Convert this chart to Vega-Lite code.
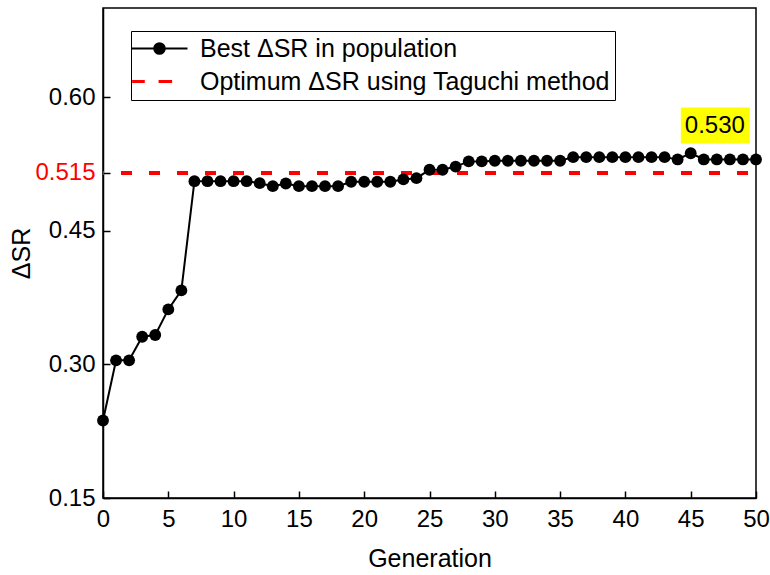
{
  "$schema": "https://vega.github.io/schema/vega-lite/v6.json",
  "width": 653,
  "height": 490,
  "autosize": {"type": "none"},
  "padding": {"left": 103, "top": 8, "right": 14, "bottom": 77},
  "background": "white",
  "config": {
    "font": "Liberation Sans",
    "view": {"stroke": "black", "strokeWidth": 1.5},
    "axis": {
      "grid": false,
      "domainColor": "black",
      "domainWidth": 1.5,
      "tickColor": "black",
      "tickWidth": 1.5,
      "tickSize": -7,
      "labelFlush": false,
      "labelFont": "Liberation Sans",
      "labelFontSize": 24,
      "labelColor": "black",
      "titleFont": "Liberation Sans",
      "titleFontSize": 25,
      "titleFontWeight": "normal",
      "titleColor": "black"
    }
  },
  "data": {
    "values": [
      {"generation": 0, "delta_sr": 0.237},
      {"generation": 1, "delta_sr": 0.3045},
      {"generation": 2, "delta_sr": 0.3045},
      {"generation": 3, "delta_sr": 0.331},
      {"generation": 4, "delta_sr": 0.333},
      {"generation": 5, "delta_sr": 0.3617},
      {"generation": 6, "delta_sr": 0.383},
      {"generation": 7, "delta_sr": 0.5056},
      {"generation": 8, "delta_sr": 0.5056},
      {"generation": 9, "delta_sr": 0.5056},
      {"generation": 10, "delta_sr": 0.5056},
      {"generation": 11, "delta_sr": 0.5056},
      {"generation": 12, "delta_sr": 0.5034},
      {"generation": 13, "delta_sr": 0.5},
      {"generation": 14, "delta_sr": 0.503},
      {"generation": 15, "delta_sr": 0.5},
      {"generation": 16, "delta_sr": 0.5},
      {"generation": 17, "delta_sr": 0.5},
      {"generation": 18, "delta_sr": 0.5},
      {"generation": 19, "delta_sr": 0.505},
      {"generation": 20, "delta_sr": 0.505},
      {"generation": 21, "delta_sr": 0.505},
      {"generation": 22, "delta_sr": 0.505},
      {"generation": 23, "delta_sr": 0.5076},
      {"generation": 24, "delta_sr": 0.509},
      {"generation": 25, "delta_sr": 0.5184},
      {"generation": 26, "delta_sr": 0.5184},
      {"generation": 27, "delta_sr": 0.522},
      {"generation": 28, "delta_sr": 0.5278},
      {"generation": 29, "delta_sr": 0.5278},
      {"generation": 30, "delta_sr": 0.5285},
      {"generation": 31, "delta_sr": 0.5285},
      {"generation": 32, "delta_sr": 0.5285},
      {"generation": 33, "delta_sr": 0.5285},
      {"generation": 34, "delta_sr": 0.5285},
      {"generation": 35, "delta_sr": 0.5285},
      {"generation": 36, "delta_sr": 0.5326},
      {"generation": 37, "delta_sr": 0.5326},
      {"generation": 38, "delta_sr": 0.5326},
      {"generation": 39, "delta_sr": 0.5326},
      {"generation": 40, "delta_sr": 0.5326},
      {"generation": 41, "delta_sr": 0.5326},
      {"generation": 42, "delta_sr": 0.5326},
      {"generation": 43, "delta_sr": 0.5326},
      {"generation": 44, "delta_sr": 0.530},
      {"generation": 45, "delta_sr": 0.537},
      {"generation": 46, "delta_sr": 0.530},
      {"generation": 47, "delta_sr": 0.530},
      {"generation": 48, "delta_sr": 0.530},
      {"generation": 49, "delta_sr": 0.530},
      {"generation": 50, "delta_sr": 0.530}
    ]
  },
  "encoding": {
    "x": {
      "field": "generation",
      "type": "quantitative",
      "title": "Generation",
      "scale": {"domain": [0, 50], "nice": false},
      "axis": {
        "values": [0, 5, 10, 15, 20, 25, 30, 35, 40, 45, 50],
        "labelPadding": 16,
        "titlePadding": 15
      }
    },
    "y": {
      "field": "delta_sr",
      "type": "quantitative",
      "title": "ΔSR",
      "scale": {"domain": [0.15, 0.7], "nice": false, "zero": false},
      "axis": {
        "values": [0.15, 0.3, 0.45, 0.515, 0.6],
        "labelExpr": "datum.value === 0.515 ? '0.515' : format(datum.value, '.2f')",
        "labelColor": {"condition": {"test": "datum.value === 0.515", "value": "red"}, "value": "black"},
        "labelPadding": 15,
        "titlePadding": 0
      }
    }
  },
  "layer": [
    {
      "mark": {"type": "rule", "strokeDash": [11, 17], "strokeDashOffset": 10, "strokeWidth": 3},
      "encoding": {
        "x": {"value": 0},
        "x2": {"value": 653},
        "y": {"datum": 0.515},
        "color": {"datum": "Optimum ΔSR using Taguchi method"}
      }
    },
    {
      "mark": {"type": "line", "strokeWidth": 2, "point": {"filled": true, "size": 140, "opacity": 1}},
      "encoding": {
        "color": {
          "datum": "Best ΔSR in population",
          "scale": {
            "domain": ["Best ΔSR in population", "Optimum ΔSR using Taguchi method"],
            "range": ["black", "red"]
          },
          "legend": {
            "title": null,
            "orient": "none",
            "legendX": 28,
            "legendY": 23,
            "padding": 5,
            "strokeColor": "black",
            "fillColor": "white",
            "labelFont": "Liberation Sans",
            "labelFontSize": 25,
            "labelColor": "black",
            "labelLimit": 500,
            "symbolSize": 1024,
            "symbolStrokeWidth": 2,
            "symbolOffset": 11,
            "labelOffset": 28,
            "rowPadding": 7,
            "encode": {
              "symbols": {
                "update": {
                  "shape": {"signal": "datum.value === 'Best ΔSR in population' ? 'M-1.75,0H1.75M-0.33,0A0.33,0.33 0 1,1 0.33,0A0.33,0.33 0 1,1 -0.33,0Z' : 'M-1.71,0H-0.92M-0.06,0H0.79'"},
                  "fill": {"signal": "datum.value === 'Best ΔSR in population' ? 'black' : 'red'"},
                  "stroke": {"signal": "datum.value === 'Best ΔSR in population' ? 'black' : 'red'"},
                  "strokeWidth": {"signal": "datum.value === 'Best ΔSR in population' ? 2 : 3"},
                  "strokeDash": {"value": []},
                  "opacity": {"value": 1}
                }
              }
            }
          }
        }
      }
    },
    {
      "transform": [{"filter": "datum.generation === 47"}],
      "mark": {"type": "rect", "color": "#ffff00", "xOffset": -36, "x2Offset": 33, "yOffset": -52, "y2Offset": -16},
      "encoding": {
        "x2": {"field": "generation"},
        "y2": {"field": "delta_sr"}
      }
    },
    {
      "transform": [{"filter": "datum.generation === 47"}],
      "mark": {"type": "text", "fontSize": 24, "font": "Liberation Sans", "color": "black", "dx": -2, "dy": -33, "baseline": "middle", "align": "center"},
      "encoding": {
        "text": {"field": "delta_sr", "type": "quantitative", "format": ".3f"}
      }
    }
  ]
}
